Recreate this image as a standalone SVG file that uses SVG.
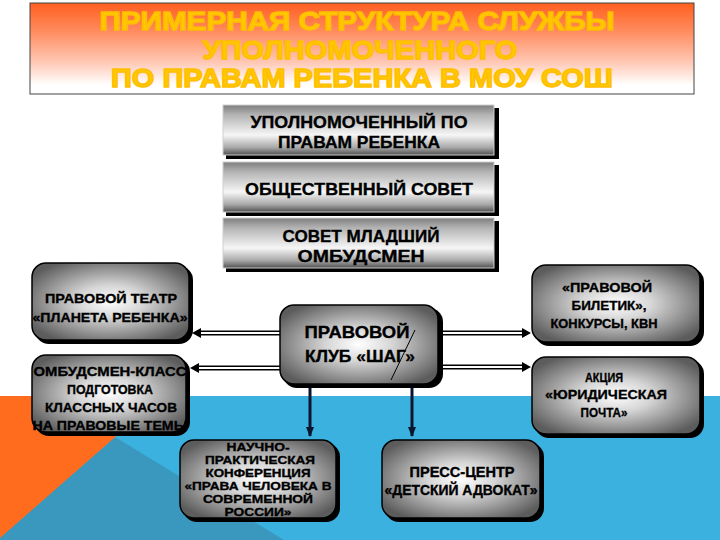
<svg xmlns="http://www.w3.org/2000/svg" width="720" height="540" viewBox="0 0 720 540">
<defs>
<linearGradient id="titleGrad" x1="0" y1="0" x2="0" y2="1">
<stop offset="0" stop-color="#FF5F1F"/>
<stop offset="0.3" stop-color="#FF8A5C"/>
<stop offset="0.65" stop-color="#FFC8B4"/>
<stop offset="0.9" stop-color="#FFFFFF"/>
</linearGradient>
<linearGradient id="rectGrad" x1="0" y1="0" x2="0" y2="1">
<stop offset="0" stop-color="#7E7E7E"/>
<stop offset="0.2" stop-color="#B4B4B4"/>
<stop offset="0.6" stop-color="#F6F6F6"/>
<stop offset="0.85" stop-color="#A8A8A8"/>
<stop offset="1" stop-color="#505050"/>
</linearGradient>
<radialGradient id="roundGrad" cx="0.5" cy="0.5" r="0.6">
<stop offset="0" stop-color="#FFFFFF"/>
<stop offset="0.35" stop-color="#D6D6D6"/>
<stop offset="1" stop-color="#5C5C5C"/>
</radialGradient>
<marker id="ahd" markerWidth="10" markerHeight="10" refX="9" refY="5" orient="auto" markerUnits="userSpaceOnUse">
<path d="M0,1 L10,5 L0,9 Z" fill="#0A1530"/>
</marker>
<style>
.t{font-family:"Liberation Sans",Arial,sans-serif;font-weight:bold;fill:#000;stroke:#000;stroke-width:0.35;text-anchor:middle}
.title{font-family:"Liberation Sans",Arial,sans-serif;font-weight:bold;fill:#FFC800;stroke:#FFBE00;stroke-width:1.4;text-anchor:middle;font-size:26px}
.rb{fill:url(#rectGrad);stroke:#D0D0D0;stroke-width:1}
.rs{fill:#000}
.ob{fill:url(#roundGrad);stroke:#000;stroke-width:1.5}
.os{fill:#000}
.dbl{stroke:#000;stroke-width:5;fill:none}
.dblw{stroke:#FFFFFF;stroke-width:2;fill:none}
.down{stroke:#0A1530;stroke-width:3;fill:none}
</style>
</defs>
<rect x="0" y="0" width="720" height="540" fill="#FFFFFF"/>
<rect x="0" y="396" width="720" height="144" fill="#3AB1DE"/>
<polygon points="115,437 284,540 0,540 0,537" fill="#3A98BF"/>
<polygon points="0,396 162,396 0,538" fill="#FF6C1E"/>

<g id="title">
<rect x="30" y="3" width="664" height="91" fill="url(#titleGrad)" stroke="#444" stroke-width="1"/>
<text class="title" x="357" y="30" textLength="515" lengthAdjust="spacingAndGlyphs">ПРИМЕРНАЯ СТРУКТУРА СЛУЖБЫ</text>
<text class="title" x="360" y="59" textLength="315" lengthAdjust="spacingAndGlyphs">УПОЛНОМОЧЕННОГО</text>
<text class="title" x="362" y="87" textLength="502" lengthAdjust="spacingAndGlyphs">ПО ПРАВАМ РЕБЕНКА В МОУ СОШ</text>
</g>

<g id="connectors">
<line class="dbl" x1="280" y1="333" x2="200" y2="333"/>
<line class="dblw" x1="280" y1="333" x2="198" y2="333"/>
<path d="M201,328 L192,333 L201,338 Z" fill="#000"/>
<line class="dbl" x1="280" y1="368" x2="198" y2="368"/>
<line class="dblw" x1="280" y1="368" x2="196" y2="368"/>
<path d="M199,363 L190,368 L199,373 Z" fill="#000"/>
<line class="dbl" x1="441" y1="333" x2="523" y2="333"/>
<line class="dblw" x1="441" y1="333" x2="525" y2="333"/>
<path d="M522,328 L531,333 L522,338 Z" fill="#000"/>
<line class="dbl" x1="441" y1="367" x2="523" y2="367"/>
<line class="dblw" x1="441" y1="367" x2="525" y2="367"/>
<path d="M522,362 L531,367 L522,372 Z" fill="#000"/>
<line class="down" x1="310" y1="388" x2="310" y2="436" marker-end="url(#ahd)"/>
<line class="down" x1="412" y1="388" x2="412" y2="436" marker-end="url(#ahd)"/>
</g>

<g id="n-ombudsman">
<rect class="rs" x="226" y="108" width="273" height="51"/>
<rect class="rb" x="223" y="105" width="271" height="50"/>
<text class="t" x="359" y="128" font-size="17" textLength="217" lengthAdjust="spacingAndGlyphs">УПОЛНОМОЧЕННЫЙ ПО</text>
<text class="t" x="359" y="148" font-size="17" textLength="162" lengthAdjust="spacingAndGlyphs">ПРАВАМ РЕБЕНКА</text>
</g>
<g id="n-council">
<rect class="rs" x="226" y="165" width="273" height="51"/>
<rect class="rb" x="223" y="162" width="271" height="50"/>
<text class="t" x="359" y="195" font-size="17" textLength="228" lengthAdjust="spacingAndGlyphs">ОБЩЕСТВЕННЫЙ СОВЕТ</text>
</g>
<g id="n-junior">
<rect class="rs" x="226" y="221" width="273" height="51"/>
<rect class="rb" x="223" y="218" width="271" height="50"/>
<text class="t" x="361" y="242" font-size="17" textLength="157" lengthAdjust="spacingAndGlyphs">СОВЕТ МЛАДШИЙ</text>
<text class="t" x="361" y="262" font-size="17" textLength="127" lengthAdjust="spacingAndGlyphs">ОМБУДСМЕН</text>
</g>

<g id="n-theatre">
<rect class="os" x="35" y="266" width="158" height="78" rx="14"/>
<rect class="ob" x="32" y="263" width="157" height="77" rx="14"/>
<text class="t" x="111" y="303" font-size="13.5" textLength="132" lengthAdjust="spacingAndGlyphs">ПРАВОВОЙ ТЕАТР</text>
<text class="t" x="110" y="322" font-size="13.5" textLength="155" lengthAdjust="spacingAndGlyphs">«ПЛАНЕТА РЕБЕНКА»</text>
</g>
<g id="n-class">
<rect class="os" x="35" y="358" width="155" height="78" rx="14"/>
<rect class="ob" x="32" y="355" width="154" height="77" rx="14"/>
<text class="t" x="110" y="376" font-size="13.5" textLength="153" lengthAdjust="spacingAndGlyphs">ОМБУДСМЕН-КЛАСС</text>
<text class="t" x="110" y="394" font-size="13.5" textLength="86" lengthAdjust="spacingAndGlyphs">ПОДГОТОВКА</text>
<text class="t" x="111" y="412" font-size="13.5" textLength="132" lengthAdjust="spacingAndGlyphs">КЛАССНЫХ ЧАСОВ</text>
<text class="t" x="110" y="430" font-size="13.5" textLength="155" lengthAdjust="spacingAndGlyphs">НА ПРАВОВЫЕ ТЕМЫ</text>
</g>
<g id="n-club">
<rect class="os" x="283" y="308" width="160" height="80" rx="14"/>
<rect class="ob" x="280" y="305" width="158" height="79" rx="14"/>
<text class="t" x="357" y="338" font-size="17" textLength="105" lengthAdjust="spacingAndGlyphs">ПРАВОВОЙ</text>
<text class="t" x="360" y="362" font-size="17" textLength="110" lengthAdjust="spacingAndGlyphs">КЛУБ «ШАГ»</text>
<line x1="415" y1="330" x2="391" y2="380" stroke="#000" stroke-width="1"/>
</g>
<g id="n-ticket">
<rect class="os" x="535" y="268" width="169" height="78" rx="14"/>
<rect class="ob" x="532" y="265" width="168" height="77" rx="14"/>
<text class="t" x="607" y="292" font-size="13" textLength="90" lengthAdjust="spacingAndGlyphs">«ПРАВОВОЙ</text>
<text class="t" x="609" y="310" font-size="13" textLength="75" lengthAdjust="spacingAndGlyphs">БИЛЕТИК»,</text>
<text class="t" x="604" y="328" font-size="13" textLength="107" lengthAdjust="spacingAndGlyphs">КОНКУРСЫ, КВН</text>
</g>
<g id="n-mail">
<rect class="os" x="535" y="360" width="169" height="78" rx="14"/>
<rect class="ob" x="532" y="357" width="168" height="77" rx="14"/>
<text class="t" x="604" y="382" font-size="13" textLength="38" lengthAdjust="spacingAndGlyphs">АКЦИЯ</text>
<text class="t" x="606" y="399" font-size="13" textLength="122" lengthAdjust="spacingAndGlyphs">«ЮРИДИЧЕСКАЯ</text>
<text class="t" x="604" y="417" font-size="13" textLength="47" lengthAdjust="spacingAndGlyphs">ПОЧТА»</text>
</g>
<g id="n-conference">
<rect class="os" x="183" y="443" width="157" height="79" rx="14"/>
<rect class="ob" x="180" y="440" width="156" height="78" rx="14"/>
<text class="t" x="258" y="451" font-size="11.5" textLength="63" lengthAdjust="spacingAndGlyphs">НАУЧНО-</text>
<text class="t" x="260" y="464" font-size="11.5" textLength="110" lengthAdjust="spacingAndGlyphs">ПРАКТИЧЕСКАЯ</text>
<text class="t" x="258" y="477" font-size="11.5" textLength="105" lengthAdjust="spacingAndGlyphs">КОНФЕРЕНЦИЯ</text>
<text class="t" x="258" y="490" font-size="11.5" textLength="147" lengthAdjust="spacingAndGlyphs">«ПРАВА ЧЕЛОВЕКА В</text>
<text class="t" x="258" y="503" font-size="11.5" textLength="110" lengthAdjust="spacingAndGlyphs">СОВРЕМЕННОЙ</text>
<text class="t" x="258" y="516" font-size="11.5" textLength="67" lengthAdjust="spacingAndGlyphs">РОССИИ»</text>
</g>
<g id="n-press">
<rect class="os" x="385" y="443" width="159" height="79" rx="14"/>
<rect class="ob" x="382" y="440" width="158" height="78" rx="14"/>
<text class="t" x="462" y="477" font-size="14" textLength="105" lengthAdjust="spacingAndGlyphs">ПРЕСС-ЦЕНТР</text>
<text class="t" x="461" y="495" font-size="14" textLength="153" lengthAdjust="spacingAndGlyphs">«ДЕТСКИЙ АДВОКАТ»</text>
</g>
</svg>
